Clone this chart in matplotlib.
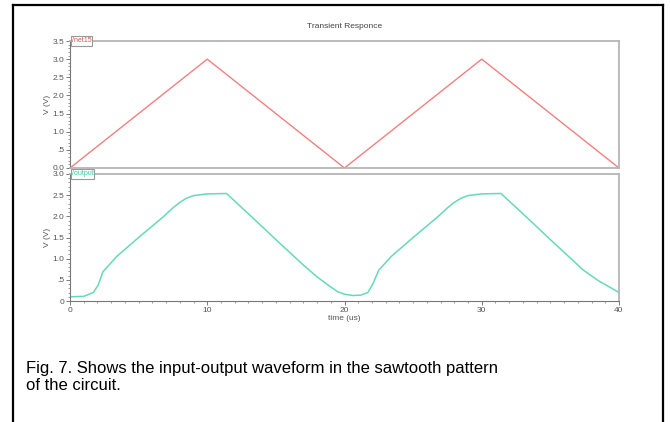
import matplotlib.pyplot as plt
from matplotlib.lines import Line2D
from matplotlib.ticker import MultipleLocator

# input sawtooth (V) and output response (V) vs time (us)
t_in = [0, 10, 20, 30, 40]
v_in = [0.0, 3.0, 0.0, 3.0, 0.0]

t_out = [0, 1.0, 1.7, 2.06, 2.4, 3.4, 5.0, 6.8, 7.5, 8.0, 8.5, 9.0, 10.0, 11.4,
         13.1, 15.0, 17.0, 18.0, 19.0, 19.5, 20.0, 20.6, 21.2, 21.7,
         22.06, 22.5, 23.4, 25.0, 26.8, 27.5, 28.0, 28.5, 29.0, 30.0, 31.4,
         33.1, 35.0, 37.4, 38.5, 39.9]
v_out = [0.10, 0.11, 0.20, 0.38, 0.69, 1.05, 1.50, 1.99, 2.20, 2.33, 2.43, 2.49, 2.53, 2.54,
         2.03, 1.45, 0.85, 0.57, 0.33, 0.22, 0.16, 0.13, 0.14, 0.20,
         0.40, 0.73, 1.05, 1.50, 1.99, 2.20, 2.33, 2.43, 2.49, 2.53, 2.54,
         2.03, 1.45, 0.73, 0.48, 0.22]

plt.rcParams["font.family"] = ["Liberation Sans", "DejaVu Sans"]

fig = plt.figure(figsize=(6.7, 4.22), dpi=100)
W, H = 670, 422

def fig_axes(x0, y0, x1, y1):
    return fig.add_axes([x0 / W, 1 - y1 / H, (x1 - x0) / W, (y1 - y0) / H])

ax_in = fig_axes(70, 41, 619, 168)
ax_out = fig_axes(70, 174, 619, 301)

ax_in.plot(t_in, v_in, color="#f08080", lw=1.0)
ax_out.plot(t_out, v_out, color="#66d9b8", lw=1.1)

ax_in.set_ylim(0, 3.5)
ax_out.set_ylim(0, 3.0)
ax_in.set_yticks([0, 0.5, 1.0, 1.5, 2.0, 2.5, 3.0, 3.5])
ax_in.set_yticklabels(["0.0", ".5", "1.0", "1.5", "2.0", "2.5", "3.0", "3.5"])
ax_out.set_yticks([0, 0.5, 1.0, 1.5, 2.0, 2.5, 3.0])
ax_out.set_yticklabels(["0", ".5", "1.0", "1.5", "2.0", "2.5", "3.0"])

for ax in (ax_in, ax_out):
    ax.set_xlim(0, 40)
    ax.xaxis.set_minor_locator(MultipleLocator(1))
    ax.yaxis.set_minor_locator(MultipleLocator(0.1))
    for s in ax.spines.values():
        s.set_color("#b5b5b5")
        s.set_linewidth(1.3)
    ax.spines["left"].set_color("#777777")
    ax.spines["left"].set_linewidth(0.8)
    ax.tick_params(axis="both", which="major", labelsize=6, colors="#666666",
                   length=3, width=0.6, pad=1)
    ax.tick_params(axis="both", which="minor", colors="#777777", length=1.5, width=0.5)
    ax.tick_params(axis="y", labelcolor="#555555")
    ax.set_ylabel("V (V)", fontsize=6, color="#555555", labelpad=1)

ax_in.tick_params(axis="x", which="both", bottom=False, labelbottom=False)
ax_out.spines["bottom"].set_color("#777777")
ax_out.spines["bottom"].set_linewidth(0.8)
ax_out.set_xticks([0, 10, 20, 30, 40])
ax_out.tick_params(axis="x", labelcolor="#555555")
ax_out.set_xlabel("time (us)", fontsize=6, color="#555555", labelpad=1)

# trace name tabs at the top-left of each panel
ax_in.text(0.003, 1.0, "/net15", transform=ax_in.transAxes, fontsize=5,
           color="#e05050", va="center", ha="left",
           bbox=dict(boxstyle="square,pad=0.15", fc="white", ec="#999999", lw=0.8))
ax_out.text(0.003, 1.0, "/output", transform=ax_out.transAxes, fontsize=5,
            color="#40c8a0", va="center", ha="left",
            bbox=dict(boxstyle="square,pad=0.15", fc="white", ec="#999999", lw=0.8))

fig.text(345 / W, 1 - 26 / H, "Transient Responce", fontsize=6,
         color="#444444", ha="center", va="center")

fig.text(26 / W, 1 - 368 / H, "Fig. 7. Shows the input-output waveform in the sawtooth pattern",
         fontsize=12, ha="left", va="center")
fig.text(26 / W, 1 - 385 / H, "of the circuit.", fontsize=12, ha="left", va="center")

# outer frame (open at the bottom)
frame = dict(color="black", lw=1.6, transform=fig.transFigure)
fig.add_artist(Line2D([13 / W, 13 / W], [0, 1 - 5 / H], **frame))
fig.add_artist(Line2D([663 / W, 663 / W], [0, 1 - 5 / H], **frame))
fig.add_artist(Line2D([13 / W, 663 / W], [1 - 5 / H, 1 - 5 / H], **frame))

fig.savefig("out.png", dpi=100)
